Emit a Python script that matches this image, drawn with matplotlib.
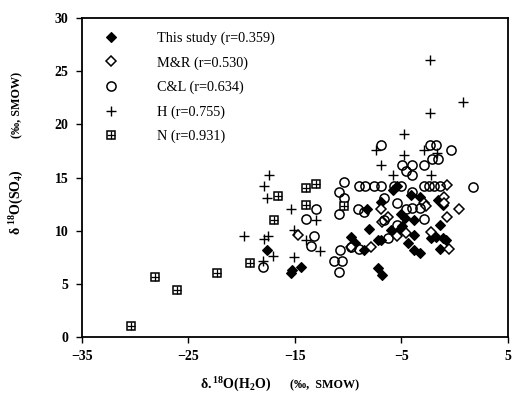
import matplotlib
matplotlib.use("Agg")
import matplotlib.pyplot as plt
from matplotlib.legend_handler import HandlerTuple

plt.rcParams['font.family'] = ['Liberation Serif', 'DejaVu Serif']
plt.rcParams['mathtext.fontset'] = 'custom'
plt.rcParams['mathtext.rm'] = 'Liberation Serif'
plt.rcParams['mathtext.bf'] = 'Liberation Serif:bold'
plt.rcParams['mathtext.it'] = 'Liberation Serif:italic'

# ---- data ----
this_x = [-17.6, -15.4, -15.3, -14.4, -7.2, -6.8, -9.75, -9.4, -8.5, -8.0, -7.2, -8.2, -6.9, -5.8,
          -5.4, -4.1, -3.3, -5.0, -4.7, -3.8, -4.9, -6.0, -5.4, -3.8, -4.4, -3.8, -3.3, -6.9,
          -1.6, -1.1, -1.4, -2.2, -1.75, -1.1, -1.35, -0.8]
this_y = [8.2, 6.0, 6.3, 6.6, 6.45, 5.8, 9.4, 8.8, 8.2, 10.2, 9.1, 12.0, 12.7, 13.8,
          14.2, 13.4, 13.2, 11.6, 11.2, 11.0, 10.4, 10.1, 9.9, 9.6, 8.8, 8.2, 7.9, 9.1,
          12.9, 12.4, 10.5, 9.3, 9.4, 9.3, 8.3, 9.1]

mr_x = [-0.7, 0.4, -0.5, -0.7, -2.9, -2.7, -1.0, -1.0, -6.9, -5.4, -7.9, -9.75, -14.7, -4.6,
        -6.3, -6.8, -2.2]
mr_y = [14.3, 12.0, 8.25, 11.3, 12.6, 12.3, 13.2, 12.6, 12.0, 9.5, 8.5, 8.5, 9.6, 9.75,
        11.3, 10.85, 9.9]

cl_x = [-18.0, -14.0, -13.0, -13.2, -13.5, -10.4, -10.9, -10.4, -10.9, -10.8, -11.3, -10.6,
        -10.9, -9.0, -8.4, -7.6, -6.9, -5.7, -5.0, -2.9, -2.4, -1.9, -1.4, 1.7, -6.9, -2.3,
        -1.75, -0.35, -2.1, -1.6, -2.9, -4.9, -4.0, -4.6, -4.0, -9.1, -8.5, -6.6, -5.4, -4.0,
        -4.0, -4.6, -3.3, -2.9, -6.6, -5.4, -6.3, -9.0, -9.7]
cl_y = [6.6, 11.1, 12.0, 9.5, 8.6, 14.6, 13.6, 13.1, 11.6, 8.2, 7.1, 7.1,
        6.1, 14.2, 14.2, 14.2, 14.2, 14.2, 14.2, 14.2, 14.2, 14.2, 14.2, 14.1, 18.1, 18.1,
        18.1, 17.6, 16.7, 16.7, 16.2, 16.2, 16.2, 15.6, 15.2, 12.0, 11.8, 13.1, 12.6, 13.6,
        12.1, 12.0, 12.1, 11.1, 11.0, 10.5, 9.3, 8.3, 8.5]

h_x = [-2.3, 0.8, -2.3, -4.8, -7.4, -4.8, -2.9, -6.9, -5.8, -2.2, -17.4, -17.9, -17.6, -15.4,
       -13.0, -15.1, -17.9, -19.8, -12.6, -17.1, -15.1, -18.0, -14.0, -17.5, -1.7]
h_y = [26.1, 22.1, 21.1, 19.1, 17.6, 17.1, 17.6, 16.2, 15.2, 15.2, 15.2, 14.2, 13.1, 12.0,
       11.0, 10.1, 9.2, 9.5, 8.1, 7.6, 7.55, 7.1, 9.1, 9.5, 17.3]

n_x = [-30.4, -28.1, -26.05, -22.3, -19.2, -17.0, -16.6, -14.0, -13.0, -14.0, -10.4]
n_y = [1.0, 5.66, 4.4, 5.98, 7.0, 11.0, 13.3, 14.06, 14.4, 12.4, 12.3]

labels = ['This study (r=0.359)', 'M&R (r=0.530)', 'C&L (r=0.634)', 'H (r=0.755)', 'N (r=0.931)']
xticks = [-35, -25, -15, -5, 5]
yticks = [0, 5, 10, 15, 20, 25, 30]

fig = plt.figure(figsize=(5.12, 4.04), dpi=100)
ax = fig.add_axes([0.160, 0.166, 0.832, 0.789])

lw = 1.1
h1, = ax.plot(this_x, this_y, 'D', ms=4.8, mfc='black', mec='black', mew=0.8, ls='none')
h2, = ax.plot(mr_x, mr_y, 'D', ms=4.8, mfc='white', mec='black', mew=lw, ls='none')
h3, = ax.plot(cl_x, cl_y, 'o', ms=6.6, mfc='none', mec='black', mew=lw, ls='none')
h4, = ax.plot(h_x, h_y, '+', ms=7.5, mec='black', mew=1.0, ls='none')
h5a, = ax.plot(n_x, n_y, 's', ms=5.8, mfc='white', mec='black', mew=1.1, ls='none')
h5b, = ax.plot(n_x, n_y, '+', ms=5.8, mec='black', mew=0.9, ls='none')

ax.set_xlim(-35, 5)
ax.set_ylim(0, 30)
ax.set_xticks(xticks)
ax.set_yticks(yticks)
ax.tick_params(direction='out', length=4.5, width=1.0, labelsize=10, pad=5)
for t in ax.get_xticklabels() + ax.get_yticklabels():
    t.set_fontweight('bold')
for s in ax.spines.values():
    s.set_linewidth(1.3)

leg = ax.legend([h1, h2, h3, h4, (h5a, h5b)], labels,
                handler_map={tuple: HandlerTuple(ndivide=1, pad=0)},
                loc='upper left', bbox_to_anchor=(0.025, 0.99), frameon=False,
                fontsize=10.3, handlelength=1.2, handletextpad=2.6, labelspacing=0.78,
                borderaxespad=0.3)

fig.text(0.39, 0.047, r'$\mathbf{\delta.^{18}O(H_2O)}$', fontsize=10, ha='left', va='center')
fig.text(0.566, 0.047, '(‰,  SMOW)', fontsize=8.7, fontweight='bold', ha='left', va='center')
fig.text(0.033, 0.50, r'$\mathbf{\delta\ ^{18}O(SO_4)}$', fontsize=10, rotation=90, ha='center', va='center')
fig.text(0.033, 0.74, '(‰, SMOW)', fontsize=8.7, fontweight='bold', rotation=90, ha='center', va='center')

fig.savefig('out.png', dpi=100)
